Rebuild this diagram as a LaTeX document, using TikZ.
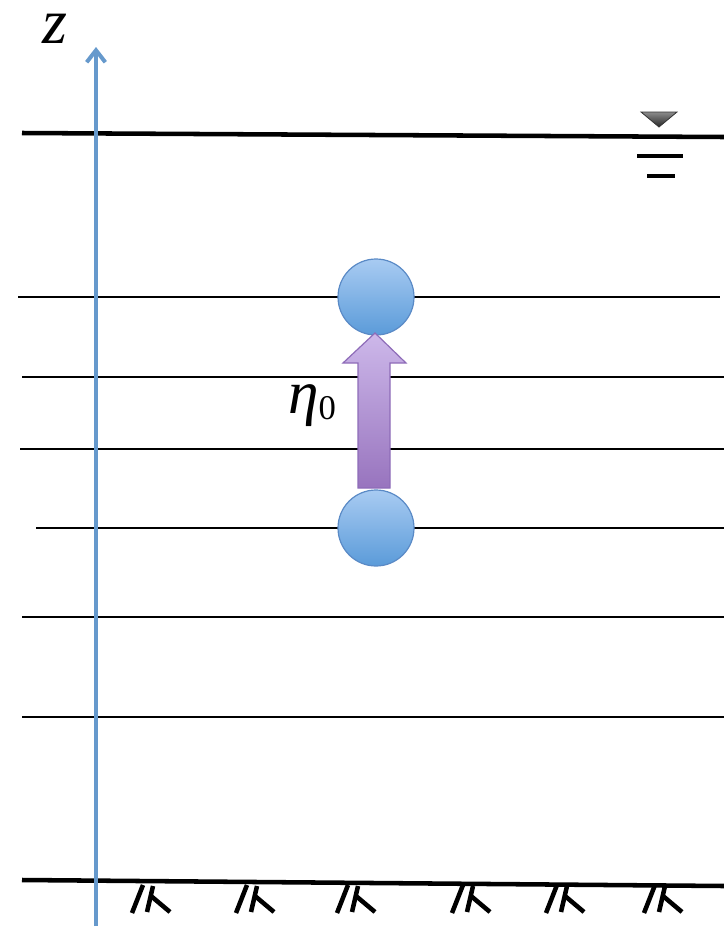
\documentclass[tikz,border=0pt]{standalone}
\usepackage{fontspec}
\setmainfont{Liberation Serif}
\usetikzlibrary{arrows.meta}
\definecolor{axisblue}{HTML}{6699CC}
\definecolor{ballTop}{HTML}{A8CBF2}
\definecolor{ballBot}{HTML}{5B9BD9}
\definecolor{ballEdge}{HTML}{5A8AC6}
\definecolor{arrTop}{HTML}{CDB8EA}
\definecolor{arrBot}{HTML}{9874BE}
\definecolor{arrEdge}{HTML}{8E6CB8}
\tikzset{
  thinline/.style={line width=1.6pt, black},
  thickline/.style={line width=3.4pt, black},
  ball/.style={circle, minimum size=57pt, inner sep=0pt, draw=ballEdge, line width=0.9pt, top color=ballTop, bottom color=ballBot},
  hatch/.style={line width=3.4pt, black},
}
\begin{document}
\begin{tikzpicture}[x=0.75pt,y=-0.75pt]
\useasboundingbox (0,0) rectangle (724,929);
% horizontal layers
\draw[thickline] (22,133) -- (724,137);
\draw[thinline] (18,297) -- (720,297);
\draw[thinline] (22,377) -- (724,377);
\draw[thinline] (20,449) -- (724,449);
\draw[thinline] (36,528) -- (724,528);
\draw[thinline] (22,617) -- (724,617);
\draw[thinline] (22,717) -- (724,717);
\draw[thickline] (22,880) -- (724,886);
% bed hatches
\foreach \x in {143,247,348,463,557,655}{
  \draw[hatch] (\x-11,913) -- (\x,885);
  \draw[hatch] (\x+4,912) -- (\x+10,886);
  \draw[hatch] (\x+8,896) -- (\x+27,912);
}
% water level symbol
\draw[black!80, line width=0.6pt, top color=black!45, bottom color=black!85] (641,112) -- (677,112) -- (659,127) -- cycle;
\draw[line width=3.2pt] (637,156) -- (683,156);
\draw[line width=3.2pt] (647,176) -- (675,176);
% z axis
\coordinate (zb) at (96,926);
\coordinate (zt) at (96,47);
\draw[axisblue, line width=3pt, -{Straight Barb[length=9pt,width=14pt,line width=3pt]}] (zb) -- (zt);
\node[font=\fontsize{48}{48}\selectfont\itshape, anchor=base, inner sep=0pt] (zlab) at (55,43) {z};
% particles
\node[ball] (p0) at (376,528) {};
\node[ball] (p1) at (376,297) {};
% displacement arrow
\draw[draw=arrEdge, line width=0.9pt, top color=arrTop, bottom color=arrBot]
  (358,488) -- (358,363) -- (343,363) -- (375,333) -- (406,363) -- (390,363) -- (390,488) -- cycle;
\node[anchor=base west, inner sep=0pt] (eta) at (288,413) {\fontsize{46}{46}\selectfont\itshape η\fontsize{26}{26}\selectfont\upshape\raisebox{-5pt}{0}};
\end{tikzpicture}
\end{document}
